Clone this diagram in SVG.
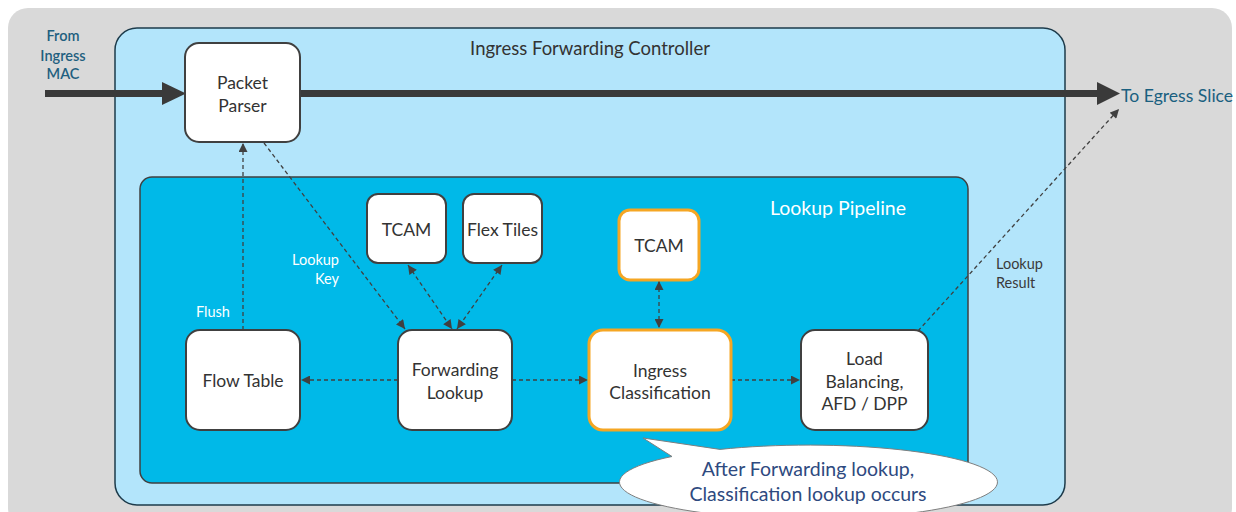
<svg xmlns="http://www.w3.org/2000/svg" width="1236" height="512" viewBox="0 0 1236 512">
<style>
.box{fill:#fff;stroke:#404040;stroke-width:2}
.obox{fill:#fff;stroke:#f5a623;stroke-width:3}
.t{font-family:Lato,"Open Sans",sans-serif;font-size:17.5px;fill:#333;text-anchor:middle;dominant-baseline:central}
.lbl{font-family:Lato,"Open Sans",sans-serif;font-size:14.5px;dominant-baseline:central}
.dash{fill:none;stroke:#404040;stroke-width:1.3;stroke-dasharray:4 3}
.thick{stroke:#3a3a3a;stroke-width:7;fill:none}
.from{font-weight:600;fill:#1f5f7f;font-size:14.5px}
.call{fill:#2e4a80;font-size:19.5px}
</style>
<defs>
<marker id="ah" viewBox="0 0 10 10" refX="10" refY="5" markerWidth="10" markerHeight="9" markerUnits="userSpaceOnUse" orient="auto-start-reverse">
<path d="M0,0 L10,5 L0,10 Z" fill="#404040"/>
</marker>
</defs>
<rect id="background" x="8" y="8" width="1224" height="520" rx="20" fill="#d9d9d9"/>
<g id="controller">
<rect x="115" y="28" width="950" height="477" rx="22" fill="#b3e5fb" stroke="#1d3b4b" stroke-width="1.5"/>
<text x="590" y="48" class="t" style="font-size:18.5px">Ingress Forwarding Controller</text>
</g>
<g id="pipeline">
<rect x="140" y="177" width="828" height="306" rx="12" fill="#00b9e8" stroke="#404040" stroke-width="1.5"/>
<text x="838" y="207" class="t" style="font-size:19.5px;fill:#fff">Lookup Pipeline</text>
</g>
<g id="from-label">
<text class="lbl from" x="63" y="35" text-anchor="middle">From</text>
<text class="lbl from" x="63" y="55" text-anchor="middle">Ingress</text>
<text class="lbl from" x="63" y="73" text-anchor="middle">MAC</text>
</g>
<g id="to-egress">
<text class="lbl" x="1121" y="95" style="fill:#1a6080;font-size:17.6px">To Egress Slice</text>
</g>
<g id="connectors">
<line class="thick" x1="45" y1="93.5" x2="165" y2="93.5"/>
<polygon points="162,82 186,93.5 162,105" fill="#3a3a3a"/>
<line class="thick" x1="300" y1="93.5" x2="1099" y2="93.5"/>
<polygon points="1097,82 1120,93.5 1097,105" fill="#3a3a3a"/>
<line class="dash" x1="243" y1="330" x2="243" y2="143" marker-end="url(#ah)"/>
<line class="dash" x1="264" y1="143" x2="405" y2="329" marker-end="url(#ah)"/>
<line class="dash" x1="408" y1="265" x2="452" y2="329" marker-start="url(#ah)" marker-end="url(#ah)"/>
<line class="dash" x1="502" y1="265" x2="457" y2="329" marker-start="url(#ah)" marker-end="url(#ah)"/>
<line class="dash" x1="398" y1="380" x2="301" y2="380" marker-end="url(#ah)"/>
<line class="dash" x1="512" y1="380" x2="588" y2="380" marker-end="url(#ah)"/>
<line class="dash" x1="659" y1="281" x2="659" y2="328" marker-start="url(#ah)" marker-end="url(#ah)"/>
<line class="dash" x1="731" y1="380" x2="800" y2="380" marker-end="url(#ah)"/>
<line class="dash" x1="918" y1="331" x2="1119" y2="109" marker-end="url(#ah)"/>
<text class="lbl" x="213" y="311" text-anchor="middle" fill="#fff">Flush</text>
<text class="lbl" x="339" y="259" text-anchor="end" fill="#fff">Lookup</text>
<text class="lbl" x="339" y="278" text-anchor="end" fill="#fff">Key</text>
<text class="lbl" x="996" y="263" fill="#3a3a3a">Lookup</text>
<text class="lbl" x="996" y="282" fill="#3a3a3a">Result</text>
</g>
<g id="packet-parser">
<rect class="box" x="185" y="43" width="115" height="99" rx="14"/>
<text class="t" x="242.5" y="82">Packet</text>
<text class="t" x="242.5" y="105">Parser</text>
</g>
<g id="tcam1">
<rect class="box" x="367" y="194" width="79" height="69" rx="11"/>
<text class="t" x="406.5" y="229">TCAM</text>
</g>
<g id="flex-tiles">
<rect class="box" x="463" y="194" width="79" height="69" rx="11"/>
<text class="t" x="502.5" y="229">Flex Tiles</text>
</g>
<g id="tcam2">
<rect class="obox" x="619" y="210" width="80" height="70" rx="11"/>
<text class="t" x="659" y="245">TCAM</text>
</g>
<g id="flow-table">
<rect class="box" x="186" y="330" width="114" height="100" rx="14"/>
<text class="t" x="243" y="380">Flow Table</text>
</g>
<g id="forwarding-lookup">
<rect class="box" x="398" y="330" width="114" height="100" rx="14"/>
<text class="t" x="455" y="369">Forwarding</text>
<text class="t" x="455" y="392">Lookup</text>
</g>
<g id="ingress-classification">
<rect class="obox" x="589" y="330" width="142" height="100" rx="14"/>
<text class="t" x="660" y="370">Ingress</text>
<text class="t" x="660" y="392">Classification</text>
</g>
<g id="load-balancing">
<rect class="box" x="801" y="330" width="127" height="100" rx="14"/>
<text class="t" x="864.5" y="358">Load</text>
<text class="t" x="864.5" y="381">Balancing,</text>
<text class="t" x="864.5" y="403">AFD / DPP</text>
</g>
<g id="callout">
<path d="M720,449.4 A189 37 0 1 1 672,456.5 L643,438 Z" fill="#fff" stroke="#7f7f7f" stroke-width="1"/>
<text class="t call" x="808" y="468">After Forwarding lookup,</text>
<text class="t call" x="808" y="493">Classification lookup occurs</text>
</g>
</svg>
